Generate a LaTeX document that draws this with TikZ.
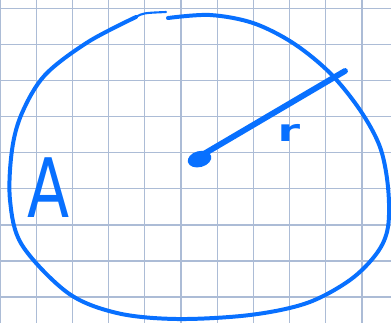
\documentclass[tikz,border=0pt]{standalone}
\usepackage{fontspec}
\setsansfont{DejaVu Sans}
\usepackage{xcolor}
\usepackage{tikz}

\definecolor{handblue}{RGB}{8,112,255}
\definecolor{gridblue}{RGB}{172,188,214}

\begin{document}
\begin{tikzpicture}[xscale=0.03, yscale=-0.03]
    % Page (pixel coordinates, y downwards)
    \useasboundingbox (0,0) rectangle (391,323);
    \fill[white] (0,0) rectangle (391,323);

    % Squared paper
    \foreach \x in {0,...,10} \draw[gridblue, line width=1.1pt] (36.2*\x,0) -- (36.2*\x,323);
    \foreach \y in {0,...,8} \draw[gridblue, line width=1.1pt] (0,8.3+36.1*\y) -- (391,8.3+36.1*\y);

    % The circle, drawn by hand, starting at the top
    \draw[handblue, line width=3.4pt, line cap=round, line join=round]
        plot[smooth, tension=0.55] coordinates {(168,18) (210,15) (253,23) (293,43) (330,73) (360,110)
        (380,147) (388,187) (388,227) (377,253) (350,280) (307,303) (250,315) (177,319)
        (117,313) (68,293) (22,245) (10,200) (12,150) (22,113) (45,75) (88,42) (136,17)};
    \draw[handblue, line width=1.8pt, line cap=round] (136,17) .. controls (143,13) .. (166,12);

    % Centre and radius
    \coordinate (O) at (197,158);
    \coordinate (rim) at (345,71);
    \fill[handblue, rotate around={-15:(O)}] (O) ellipse [x radius=12, y radius=8];
    \draw[handblue, line width=5pt, line cap=round] (O) -- (rim);

    % Labels
    \node[handblue, font=\sffamily\fontsize{70}{70}\selectfont, xscale=0.75] (A) at (49,188) {A};
    \node[handblue, font=\sffamily\bfseries\fontsize{26}{26}\selectfont, xscale=1.5] (r) at (289,133) {r};
\end{tikzpicture}
\end{document}
